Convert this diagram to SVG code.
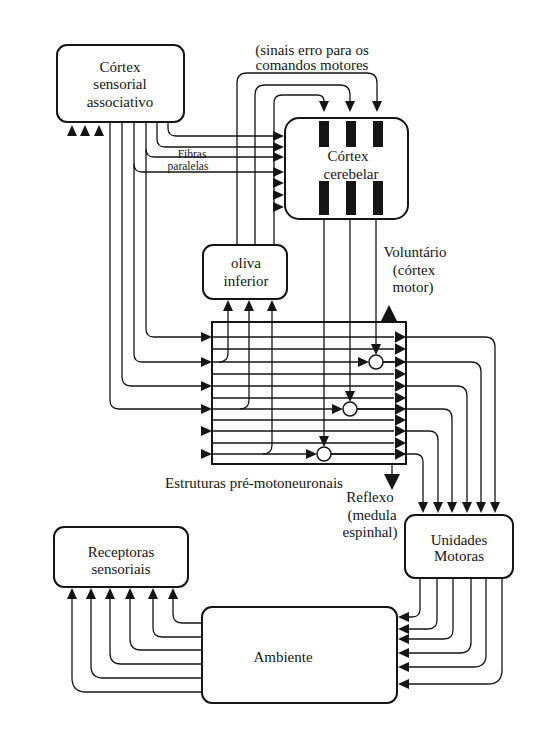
<svg xmlns="http://www.w3.org/2000/svg" xmlns:xlink="http://www.w3.org/1999/xlink" width="548" height="730" viewBox="0 0 548 730" font-family="'Liberation Serif', 'DejaVu Serif', serif">
<style>
.box{fill:#fff;stroke:#151515;stroke-width:2}
.ln{fill:none;stroke:#151515;stroke-width:1.3}
text{font-family:'Liberation Serif','DejaVu Serif',serif;font-size:15px;fill:#151515;text-anchor:middle}
.s{font-size:11.5px}
.bar{fill:#151515}
.ah{fill:#151515}
</style>
<defs>
<path id="a" class="ah" d="M0,0 L-11,-5 L-11,5 Z"/>
<path id="as" class="ah" d="M0,0 L-11,-5.8 L-11,5.8 Z"/>
<path id="ab" class="ah" d="M0,0 L-16,-8 L-16,8 Z"/>
</defs>
<rect width="548" height="730" fill="#fff"/>

<g id="cortex-sensorial">
<rect class="box" x="57" y="45" width="127" height="77" rx="10"/>
<text font-family="Liberation Serif, serif" x="120" y="72">Córtex</text>
<text font-family="Liberation Serif, serif" x="120" y="89">sensorial</text>
<text font-family="Liberation Serif, serif" x="120" y="107">associativo</text>
<use href="#a" transform="translate(72,125) rotate(-90)"/>
<use href="#a" transform="translate(85,125) rotate(-90)"/>
<use href="#a" transform="translate(99,125) rotate(-90)"/>
</g>

<g id="cortex-cerebelar">
<rect class="box" x="285" y="118" width="123" height="101" rx="14"/>
<rect class="bar" x="319" y="121" width="10" height="26"/>
<rect class="bar" x="346" y="121" width="10" height="26"/>
<rect class="bar" x="373" y="121" width="10" height="26"/>
<rect class="bar" x="319" y="181" width="10" height="34"/>
<rect class="bar" x="346" y="181" width="10" height="34"/>
<rect class="bar" x="373" y="181" width="10" height="34"/>
<text font-family="Liberation Serif, serif" x="348" y="161">Córtex</text>
<text font-family="Liberation Serif, serif" x="351" y="179">cerebelar</text>
</g>

<g id="oliva-inferior">
<rect class="box" x="203" y="245" width="84" height="54" rx="10"/>
<text font-family="Liberation Serif, serif" x="246" y="268">oliva</text>
<text font-family="Liberation Serif, serif" x="246" y="286">inferior</text>
</g>

<g id="estruturas-pre-motoneuronais">
<rect class="box" x="212" y="322" width="194" height="142"/>
<g class="ln">
<path d="M212,337H394M212,349H394M212,374H394M212,386H394M212,398H394M212,420H394M212,431H394M212,443H394"/>
<path d="M212,362H358M383,362H394"/>
<path d="M212,409H332M357,409H394"/>
<path d="M212,454H306M331,454H394"/>
</g>
<circle cx="376" cy="362" r="7" fill="#fff" stroke="#151515" stroke-width="1.5"/>
<circle cx="350" cy="409" r="7" fill="#fff" stroke="#151515" stroke-width="1.5"/>
<circle cx="324" cy="454" r="7" fill="#fff" stroke="#151515" stroke-width="1.5"/>
<use href="#a" transform="translate(369,362)"/>
<use href="#a" transform="translate(343,409)"/>
<use href="#a" transform="translate(317,454)"/>
<use href="#as" transform="translate(406,337)"/>
<use href="#as" transform="translate(406,349)"/>
<use href="#as" transform="translate(406,362)"/>
<use href="#as" transform="translate(406,374)"/>
<use href="#as" transform="translate(406,386)"/>
<use href="#as" transform="translate(406,398)"/>
<use href="#as" transform="translate(406,409)"/>
<use href="#as" transform="translate(406,420)"/>
<use href="#as" transform="translate(406,431)"/>
<use href="#as" transform="translate(406,443)"/>
<use href="#as" transform="translate(406,454)"/>
<use href="#a" transform="translate(212,337)"/>
<use href="#a" transform="translate(212,362)"/>
<use href="#a" transform="translate(212,386)"/>
<use href="#a" transform="translate(212,409)"/>
<use href="#a" transform="translate(212,431)"/>
<use href="#a" transform="translate(212,454)"/>
<text font-family="Liberation Serif, serif" x="254" y="488">Estruturas pré-motoneuronais</text>
</g>

<g id="unidades-motoras">
<rect class="box" x="405" y="515" width="108" height="63" rx="10"/>
<text font-family="Liberation Serif, serif" x="459" y="545">Unidades</text>
<text font-family="Liberation Serif, serif" x="459" y="561">Motoras</text>
</g>

<g id="receptoras-sensoriais">
<rect class="box" x="54" y="527" width="134" height="60" rx="10"/>
<text font-family="Liberation Serif, serif" x="121" y="557">Receptoras</text>
<text font-family="Liberation Serif, serif" x="121" y="574">sensoriais</text>
</g>

<g id="ambiente">
<rect class="box" x="202" y="607" width="195" height="96" rx="10"/>
<text font-family="Liberation Serif, serif" x="283" y="662">Ambiente</text>
</g>

<g id="labels">
<text font-family="Liberation Serif, serif" x="312" y="55">(sinais erro para os</text>
<text font-family="Liberation Serif, serif" x="312" y="70">comandos motores</text>
<text font-family="Liberation Serif, serif" class="s" x="192" y="158">Fibras</text>
<text font-family="Liberation Serif, serif" class="s" x="188" y="170">paralelas</text>
<text font-family="Liberation Serif, serif" x="415" y="257">Voluntário</text>
<text font-family="Liberation Serif, serif" x="414" y="275">(córtex</text>
<text font-family="Liberation Serif, serif" x="413" y="292">motor)</text>
<text font-family="Liberation Serif, serif" x="370" y="502">Reflexo</text>
<text font-family="Liberation Serif, serif" x="372" y="520">(medula</text>
<text font-family="Liberation Serif, serif" x="370" y="537">espinhal)</text>
</g>

<g id="connectors">
<g class="ln">
<path d="M168,122V128Q168,136 176,136H273"/>
<path d="M157,122V139Q157,147 165,147H273"/>
<path d="M146,122V329Q146,337 154,337H201"/>
<path d="M146,149Q146,157 154,157H273"/>
<path d="M134,122V354Q134,362 142,362H201"/>
<path d="M134,164Q134,172 142,172H273"/>
<path d="M122,122V377Q122,386 131,386H201"/>
<path d="M110,122V400Q110,409 119,409H201"/>
<path d="M237,245V83Q237,73 247,73H367Q377,73 377,83V101"/>
<path d="M255,245V95Q255,85 265,85H340Q350,85 350,95V101"/>
<path d="M274,245V103Q274,95 282,95H317Q324,95 324,101"/>
<path d="M376,219V344"/>
<path d="M350,219V391"/>
<path d="M324,219V436"/>
<path d="M219,362Q228,362 228,353V311"/>
<path d="M240,409Q249,409 249,400V311"/>
<path d="M263,454Q272,454 272,445V311"/>
<path d="M392,464V474"/>
<path d="M406,337H485Q495,337 495,347V502"/>
<path d="M383,362H471Q481,362 481,372V502"/>
<path d="M406,386H457Q467,386 467,396V502"/>
<path d="M357,409H443Q452,409 452,418V502"/>
<path d="M406,431H429Q438,431 438,440V502"/>
<path d="M331,454H415Q423,454 423,462V502"/>
<path d="M420,578V609Q420,617 412,617H409"/>
<path d="M437,578V620Q437,629 428,629H409"/>
<path d="M453,578V630Q453,639 444,639H409"/>
<path d="M471,578V642Q471,653 460,653H409"/>
<path d="M486,578V655Q486,667 474,667H409"/>
<path d="M502,578V670Q502,684 488,684H409"/>
<path d="M202,623H182Q173,623 173,614V599"/>
<path d="M202,637H162Q153,637 153,628V599"/>
<path d="M202,650H141Q130,650 130,639V599"/>
<path d="M202,664H121Q110,664 110,653V599"/>
<path d="M202,678H103Q91,678 91,666V599"/>
<path d="M202,692H86Q72,692 72,678V599"/>
</g>
<use href="#a" transform="translate(284,136)"/>
<use href="#a" transform="translate(284,147)"/>
<use href="#a" transform="translate(284,157)"/>
<use href="#a" transform="translate(284,172)"/>
<use href="#a" transform="translate(284,183)"/>
<use href="#a" transform="translate(284,195)"/>
<use href="#a" transform="translate(284,207)"/>
<use href="#a" transform="translate(324,112) rotate(90)"/>
<use href="#a" transform="translate(350,112) rotate(90)"/>
<use href="#a" transform="translate(377,112) rotate(90)"/>
<use href="#a" transform="translate(376,355) rotate(90)"/>
<use href="#a" transform="translate(350,402) rotate(90)"/>
<use href="#a" transform="translate(324,447) rotate(90)"/>
<use href="#a" transform="translate(228,300) rotate(-90)"/>
<use href="#a" transform="translate(249,300) rotate(-90)"/>
<use href="#a" transform="translate(272,300) rotate(-90)"/>
<use href="#ab" transform="translate(389,305) rotate(-90)"/>
<use href="#ab" transform="translate(392,490) rotate(90)"/>
<use href="#a" transform="translate(423,513) rotate(90)"/>
<use href="#a" transform="translate(438,513) rotate(90)"/>
<use href="#a" transform="translate(452,513) rotate(90)"/>
<use href="#a" transform="translate(467,513) rotate(90)"/>
<use href="#a" transform="translate(481,513) rotate(90)"/>
<use href="#a" transform="translate(495,513) rotate(90)"/>
<use href="#a" transform="translate(398,617) rotate(180)"/>
<use href="#a" transform="translate(398,629) rotate(180)"/>
<use href="#a" transform="translate(398,639) rotate(180)"/>
<use href="#a" transform="translate(398,653) rotate(180)"/>
<use href="#a" transform="translate(398,667) rotate(180)"/>
<use href="#a" transform="translate(398,684) rotate(180)"/>
<use href="#a" transform="translate(72,588) rotate(-90)"/>
<use href="#a" transform="translate(91,588) rotate(-90)"/>
<use href="#a" transform="translate(110,588) rotate(-90)"/>
<use href="#a" transform="translate(130,588) rotate(-90)"/>
<use href="#a" transform="translate(153,588) rotate(-90)"/>
<use href="#a" transform="translate(173,588) rotate(-90)"/>
</g>
</svg>
